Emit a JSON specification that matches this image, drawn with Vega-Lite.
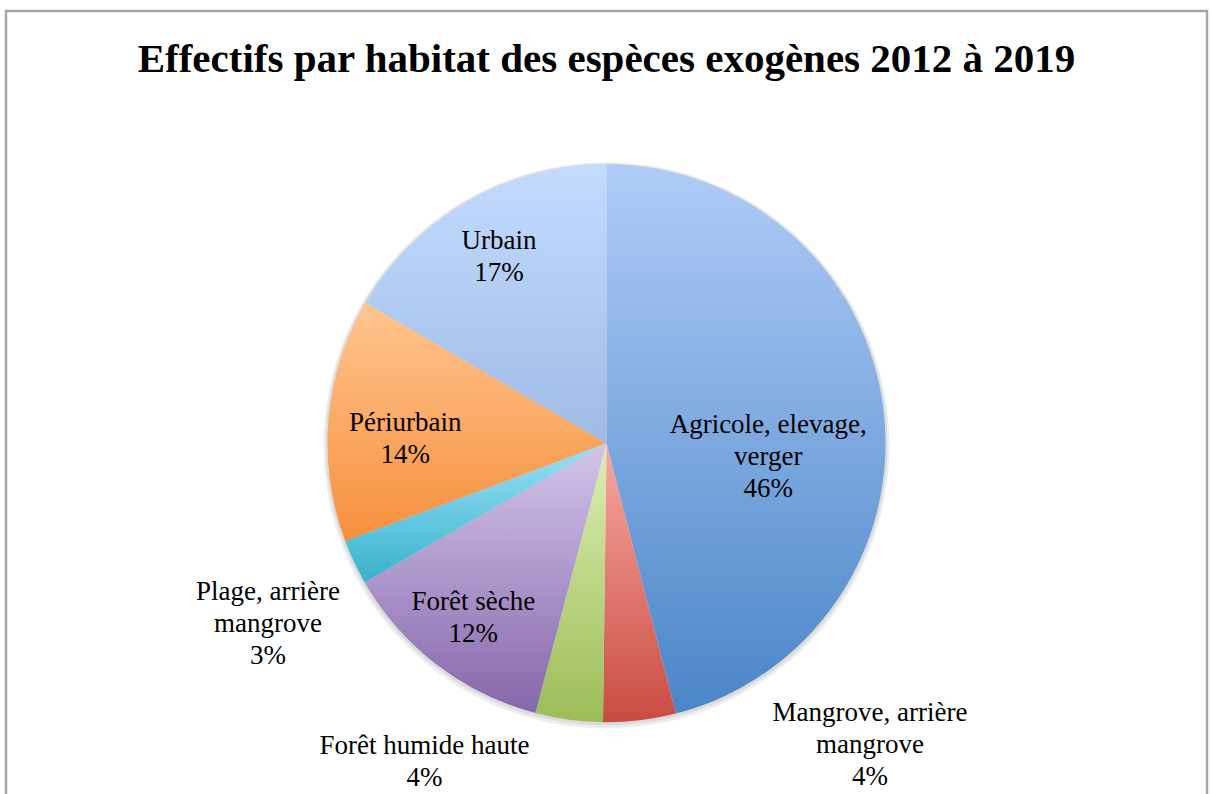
{
  "$schema": "https://vega.github.io/schema/vega-lite/v6.json",
  "autosize": "none",
  "width": 1201,
  "height": 787,
  "padding": {"left": 6, "top": 11, "right": 5, "bottom": -4},
  "background": "#ffffff",
  "title": {
    "text": "Effectifs par habitat des espèces exogènes 2012 à 2019",
    "font": "Liberation Serif",
    "fontSize": 41,
    "fontWeight": "bold",
    "color": "#000000",
    "anchor": "middle",
    "baseline": "alphabetic",
    "offset": -103
  },
  "config": {
    "view": {"stroke": null},
    "text": {"font": "Liberation Serif", "fontSize": 27, "color": "#000000", "lineBreak": "\n", "lineHeight": 32, "align": "center", "baseline": "middle"}
  },
  "data": {
    "values": [
      {"order": 1, "habitat": "Agricole, elevage, verger", "value": 46.0, "label": "Agricole, elevage,\nverger\n46%"},
      {"order": 2, "habitat": "Mangrove, arrière mangrove", "value": 4.2, "label": "Mangrove, arrière\nmangrove\n4%"},
      {"order": 3, "habitat": "Forêt humide haute", "value": 3.9, "label": "Forêt humide haute\n4%"},
      {"order": 4, "habitat": "Forêt sèche", "value": 12.6, "label": "Forêt sèche\n12%"},
      {"order": 5, "habitat": "Plage, arrière mangrove", "value": 2.6, "label": "Plage, arrière\nmangrove\n3%"},
      {"order": 6, "habitat": "Périurbain", "value": 14.1, "label": "Périurbain\n14%"},
      {"order": 7, "habitat": "Urbain", "value": 16.6, "label": "Urbain\n17%"}
    ]
  },
  "transform": [
    {"stack": "value", "groupby": [], "sort": [{"field": "order", "order": "ascending"}], "as": ["t0", "t1"]},
    {"calculate": "(datum.t0 + datum.t1) / 2", "as": "mid"}
  ],
  "layer": [
    {
      "transform": [{"filter": "datum.order == 1"}],
      "mark": {"type": "rect", "fill": "#ffffff", "fillOpacity": 0, "stroke": "#a6a6a6", "strokeWidth": 2.5},
      "encoding": {}
    },
    {
      "mark": {"type": "arc", "radius": 283, "y": 434.5, "fill": "#000000", "opacity": 0.07},
      "encoding": {"theta": {"field": "t0", "type": "quantitative", "scale": {"domain": [0, 100]}}, "theta2": {"field": "t1"}}
    },
    {
      "mark": {"type": "arc", "radius": 281, "y": 433.5, "fill": "#000000", "opacity": 0.07},
      "encoding": {"theta": {"field": "t0", "type": "quantitative", "scale": {"domain": [0, 100]}}, "theta2": {"field": "t1"}}
    },
    {
      "transform": [{"filter": "datum.order == 1"}],
      "mark": {"type": "arc", "radius": 279, "y": 432.3, "fill": {"gradient": "linear", "x1": 0, "y1": 0, "x2": 0, "y2": 1, "stops": [{"offset": 0, "color": "#b0cbf7"}, {"offset": 1, "color": "#4a86c8"}]}},
      "encoding": {"theta": {"field": "t0", "type": "quantitative", "scale": {"domain": [0, 100]}}, "theta2": {"field": "t1"}}
    },
    {
      "transform": [{"filter": "datum.order == 2"}],
      "mark": {"type": "arc", "radius": 279, "y": 432.3, "fill": {"gradient": "linear", "x1": 0, "y1": 0, "x2": 0, "y2": 1, "stops": [{"offset": 0, "color": "#f7a8a1"}, {"offset": 1, "color": "#c94b42"}]}},
      "encoding": {"theta": {"field": "t0", "type": "quantitative", "scale": {"domain": [0, 100]}}, "theta2": {"field": "t1"}}
    },
    {
      "transform": [{"filter": "datum.order == 3"}],
      "mark": {"type": "arc", "radius": 279, "y": 432.3, "fill": {"gradient": "linear", "x1": 0, "y1": 0, "x2": 0, "y2": 1, "stops": [{"offset": 0, "color": "#dcefb4"}, {"offset": 1, "color": "#9bbd57"}]}},
      "encoding": {"theta": {"field": "t0", "type": "quantitative", "scale": {"domain": [0, 100]}}, "theta2": {"field": "t1"}}
    },
    {
      "transform": [{"filter": "datum.order == 4"}],
      "mark": {"type": "arc", "radius": 279, "y": 432.3, "fill": {"gradient": "linear", "x1": 0, "y1": 0, "x2": 0, "y2": 1, "stops": [{"offset": 0, "color": "#d3c6ea"}, {"offset": 1, "color": "#8666aa"}]}},
      "encoding": {"theta": {"field": "t0", "type": "quantitative", "scale": {"domain": [0, 100]}}, "theta2": {"field": "t1"}}
    },
    {
      "transform": [{"filter": "datum.order == 5"}],
      "mark": {"type": "arc", "radius": 279, "y": 432.3, "fill": {"gradient": "linear", "x1": 0, "y1": 0, "x2": 0, "y2": 1, "stops": [{"offset": 0, "color": "#9be0f5"}, {"offset": 1, "color": "#38b2cd"}]}},
      "encoding": {"theta": {"field": "t0", "type": "quantitative", "scale": {"domain": [0, 100]}}, "theta2": {"field": "t1"}}
    },
    {
      "transform": [{"filter": "datum.order == 6"}],
      "mark": {"type": "arc", "radius": 279, "y": 432.3, "fill": {"gradient": "linear", "x1": 0, "y1": 0, "x2": 0, "y2": 1, "stops": [{"offset": 0, "color": "#ffc590"}, {"offset": 1, "color": "#f68f3d"}]}},
      "encoding": {"theta": {"field": "t0", "type": "quantitative", "scale": {"domain": [0, 100]}}, "theta2": {"field": "t1"}}
    },
    {
      "transform": [{"filter": "datum.order == 7"}],
      "mark": {"type": "arc", "radius": 279, "y": 432.3, "fill": {"gradient": "linear", "x1": 0, "y1": 0, "x2": 0, "y2": 1, "stops": [{"offset": 0, "color": "#c3dbff"}, {"offset": 1, "color": "#9fbbe4"}]}},
      "encoding": {"theta": {"field": "t0", "type": "quantitative", "scale": {"domain": [0, 100]}}, "theta2": {"field": "t1"}}
    },
    {
      "transform": [{"filter": "datum.order == 1"}],
      "mark": {"type": "text", "radius": 163, "y": 432.3, "dy": 2},
      "encoding": {"theta": {"field": "mid", "type": "quantitative", "scale": {"domain": [0, 100]}}, "text": {"field": "label", "type": "nominal"}}
    },
    {
      "transform": [{"filter": "datum.order == 2"}],
      "mark": {"type": "text", "radius": 290, "y": 432.3, "dx": 229, "dy": -18},
      "encoding": {"theta": {"field": "mid", "type": "quantitative", "scale": {"domain": [0, 100]}}, "text": {"field": "label", "type": "nominal"}}
    },
    {
      "transform": [{"filter": "datum.order == 3"}],
      "mark": {"type": "text", "radius": 290, "y": 432.3, "dx": -143, "dy": 15},
      "encoding": {"theta": {"field": "mid", "type": "quantitative", "scale": {"domain": [0, 100]}}, "text": {"field": "label", "type": "nominal"}}
    },
    {
      "transform": [{"filter": "datum.order == 4"}],
      "mark": {"type": "text", "radius": 219, "y": 432.3, "dy": -15},
      "encoding": {"theta": {"field": "mid", "type": "quantitative", "scale": {"domain": [0, 100]}}, "text": {"field": "label", "type": "nominal"}}
    },
    {
      "transform": [{"filter": "datum.order == 5"}],
      "mark": {"type": "text", "radius": 383, "y": 432.3, "dx": 8, "dy": -14},
      "encoding": {"theta": {"field": "mid", "type": "quantitative", "scale": {"domain": [0, 100]}}, "text": {"field": "label", "type": "nominal"}}
    },
    {
      "transform": [{"filter": "datum.order == 6"}],
      "mark": {"type": "text", "radius": 202, "y": 432.3, "dy": -3},
      "encoding": {"theta": {"field": "mid", "type": "quantitative", "scale": {"domain": [0, 100]}}, "text": {"field": "label", "type": "nominal"}}
    },
    {
      "transform": [{"filter": "datum.order == 7"}],
      "mark": {"type": "text", "radius": 216, "y": 432.3, "dy": -15},
      "encoding": {"theta": {"field": "mid", "type": "quantitative", "scale": {"domain": [0, 100]}}, "text": {"field": "label", "type": "nominal"}}
    }
  ]
}
